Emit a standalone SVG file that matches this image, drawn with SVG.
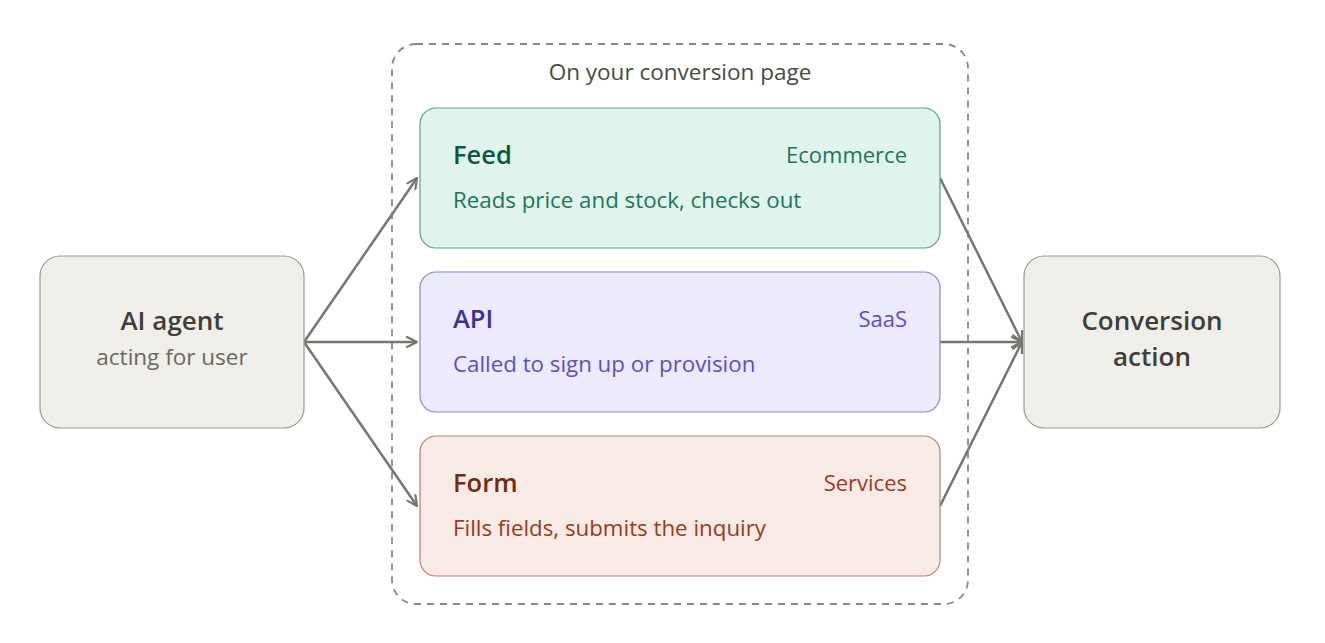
<svg xmlns="http://www.w3.org/2000/svg" width="1325" height="643" viewBox="0 0 1325 643">
<defs>
<style>
text{font-family:"Open Sans","Noto Sans","Liberation Sans",sans-serif}
.ttl{font-size:25.5px;font-weight:600}
.tag{font-size:22px;text-anchor:end}
.desc{font-size:22.3px}
.big{font-size:26px;font-weight:600;fill:#3f3e3a;text-anchor:middle}
.sub{font-size:22.5px;fill:#6a6862;text-anchor:middle}
.conn{stroke:#77766f;stroke-width:2.5;fill:none;marker-end:url(#ah)}
</style>
<marker id="ah" viewBox="0 0 12 12" refX="11" refY="6" markerWidth="12" markerHeight="12" markerUnits="userSpaceOnUse" orient="auto">
<path d="M1,1 L11,6 L1,11" fill="none" stroke="#77766f" stroke-width="2.2" stroke-linecap="round" stroke-linejoin="round"/>
</marker>
</defs>
<rect width="1325" height="643" fill="#ffffff"/>
<g id="container">
<rect x="392" y="44" width="576" height="560" rx="24" fill="none" stroke="#8a8985" stroke-width="1.8" stroke-dasharray="7 6"/>
<text x="680" y="80" font-size="22.5" fill="#4a4945" text-anchor="middle">On your conversion page</text>
</g>
<g id="connectors">
<line class="conn" x1="304" y1="342" x2="417" y2="178"/>
<line class="conn" x1="304" y1="342" x2="417" y2="342"/>
<line class="conn" x1="304" y1="342" x2="417" y2="506"/>
<line class="conn" x1="940" y1="178" x2="1022" y2="342"/>
<line class="conn" x1="940" y1="342" x2="1022" y2="342"/>
<line class="conn" x1="940" y1="506" x2="1022" y2="342"/>
</g>
<g id="ai-agent">
<rect x="40" y="256" width="264" height="172" rx="20" fill="#f0eee8" stroke="#9a9892" stroke-width="1.2"/>
<text class="big" x="172" y="330">AI agent</text>
<text class="sub" x="172" y="365">acting for user</text>
</g>
<g id="feed">
<rect x="420" y="108" width="520" height="140" rx="16" fill="#e0f3ec" stroke="#5f9f89" stroke-width="1.2"/>
<text class="ttl" x="453" y="164" fill="#0f5640">Feed</text>
<text class="tag" x="907" y="163" fill="#1d7658">Ecommerce</text>
<text class="desc" x="453" y="208" fill="#1d7658">Reads price and stock, checks out</text>
</g>
<g id="api">
<rect x="420" y="272" width="520" height="140" rx="16" fill="#ecebfb" stroke="#8c84d8" stroke-width="1.2"/>
<text class="ttl" x="453" y="328" fill="#3a3390">API</text>
<text class="tag" x="907" y="327" fill="#5a4fc6">SaaS</text>
<text class="desc" x="453" y="372" fill="#5a4fc6">Called to sign up or provision</text>
</g>
<g id="form">
<rect x="420" y="436" width="520" height="140" rx="16" fill="#f8ebe5" stroke="#bf7f68" stroke-width="1.2"/>
<text class="ttl" x="453" y="492" fill="#722a12">Form</text>
<text class="tag" x="907" y="491" fill="#9a3a1e">Services</text>
<text class="desc" x="453" y="536" fill="#9a3a1e">Fills fields, submits the inquiry</text>
</g>
<g id="conversion">
<rect x="1024" y="256" width="256" height="172" rx="20" fill="#f0eee8" stroke="#9a9892" stroke-width="1.2"/>
<text class="big" x="1152" y="330">Conversion</text>
<text class="big" x="1152" y="366">action</text>
</g>
</svg>
